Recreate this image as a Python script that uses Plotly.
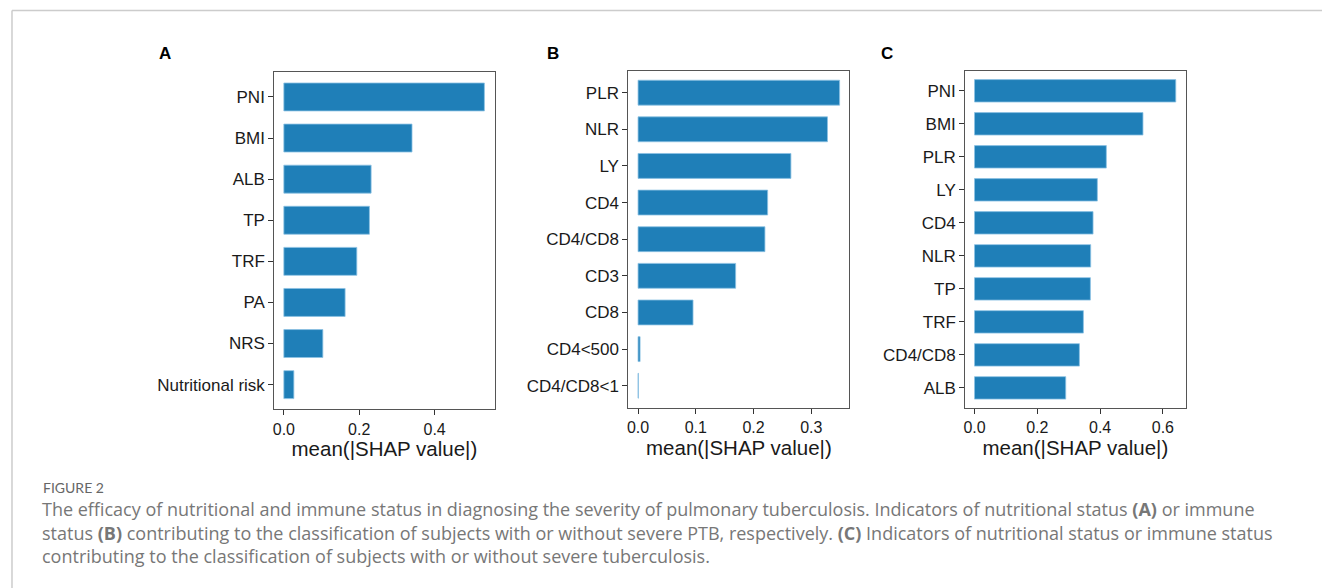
import plotly.graph_objects as go

W, H = 1322, 588

# ---------------- data ----------------
a_features = ["PNI", "BMI", "ALB", "TP", "TRF", "PA", "NRS", "Nutritional risk"]
a_values = [0.532, 0.340, 0.2315, 0.227, 0.1935, 0.1625, 0.1034, 0.0265]

b_features = ["PLR", "NLR", "LY", "CD4", "CD4/CD8", "CD3", "CD8", "CD4<500", "CD4/CD8<1"]
b_values = [0.349, 0.328, 0.2647, 0.2244, 0.2197, 0.169, 0.0952, 0.0035, 0.0006]

c_features = ["PNI", "BMI", "PLR", "LY", "CD4", "NLR", "TP", "TRF", "CD4/CD8", "ALB"]
c_values = [0.641, 0.5365, 0.4198, 0.3912, 0.3775, 0.370, 0.369, 0.3467, 0.334, 0.2905]

a_ticks = [0.0, 0.2, 0.4]
b_ticks = [0.0, 0.1, 0.2, 0.3]
c_ticks = [0.0, 0.2, 0.4, 0.6]

panel_labels = ["A", "B", "C"]
x_title = "mean(|SHAP value|)"

caption_head = "FIGURE 2"
caption_lines = [
    "The efficacy of nutritional and immune status in diagnosing the severity of pulmonary tuberculosis. Indicators of nutritional status <b>(A)</b> or immune",
    "status <b>(B)</b> contributing to the classification of subjects with or without severe PTB, respectively. <b>(C)</b> Indicators of nutritional status or immune status",
    "contributing to the classification of subjects with or without severe tuberculosis.",
]

# ---------------- layout helpers (pixel -> paper) ----------------
def px(x):
    return x / W

def py(y):
    return 1 - y / H

panels = [
    (a_features, a_values, a_ticks, [-0.0254, 0.559], (272.7, 493.3, 72.3, 409.3), 163),
    (b_features, b_values, b_ticks, [-0.0168, 0.366], (627.3, 848.7, 70.7, 407.7), 552),
    (c_features, c_values, c_ticks, [-0.0296, 0.672], (964.7, 1185.3, 71.0, 407.7), 886),
]

BAR = "#1f7fb8"
FONT = "Liberation Sans"
FRAME = "#555555"

fig = go.Figure()
layout = dict(
    width=W, height=H,
    margin=dict(l=0, r=0, t=0, b=0),
    paper_bgcolor="white", plot_bgcolor="white",
    showlegend=False,
    font=dict(family=FONT, color="#1a1a1a"),
)

annotations = []
for i, (feats, vals, ticks, xr, (l, r, t, b), lab_x) in enumerate(panels):
    idx = "" if i == 0 else str(i + 1)
    fig.add_trace(go.Bar(
        x=vals, y=feats, orientation="h",
        marker=dict(color=BAR, line=dict(color="#8cc2e3", width=0.8)),
        width=0.68,
        xaxis="x" + idx, yaxis="y" + idx,
        hoverinfo="x+y",
    ))
    n = len(feats)
    layout["xaxis" + idx] = dict(
        domain=[px(l), px(r)], anchor="y" + idx,
        range=xr, tickvals=ticks, ticktext=["%.1f" % v for v in ticks],
        showgrid=False, zeroline=False,
        showline=True, mirror=True, linecolor=FRAME, linewidth=1,
        ticks="outside", ticklen=5, tickcolor="#333333", tickwidth=1,
        tickfont=dict(family=FONT, size=16, color="#1a1a1a"),
        title=dict(text=x_title, font=dict(family=FONT, size=20.5, color="#1a1a1a"), standoff=2),
    )
    layout["yaxis" + idx] = dict(
        domain=[py(b), py(t)], anchor="x" + idx,
        type="category", categoryorder="array", categoryarray=feats,
        range=[n - 1 + 0.6, -0.6],
        showgrid=False, zeroline=False,
        showline=True, mirror=True, linecolor=FRAME, linewidth=1,
        ticks="outside", ticklen=5, tickcolor="#333333", tickwidth=1,
        tickfont=dict(family=FONT, size=17, color="#1a1a1a"),
    )
    annotations.append(dict(
        text="<b>%s</b>" % panel_labels[i], x=px(lab_x), y=py(54),
        xref="paper", yref="paper", xanchor="center", yanchor="middle",
        showarrow=False, font=dict(family=FONT, size=17, color="black"),
    ))

CAP_FONT = "Open Sans"
annotations.append(dict(
    text=caption_head, x=px(39), y=py(487), xref="paper", yref="paper",
    xanchor="left", yanchor="middle", showarrow=False,
    font=dict(family="Lato", size=14, color="#666666"),
))
for k, (line, yy) in enumerate(zip(caption_lines, [509, 532.5, 556])):
    annotations.append(dict(
        text=line, x=px(38), y=py(yy), xref="paper", yref="paper",
        xanchor="left", yanchor="middle", showarrow=False,
        font=dict(family=CAP_FONT, size=18, color="#777777"),
    ))

layout["annotations"] = annotations
layout["shapes"] = [
    dict(type="line", xref="paper", yref="paper", x0=px(10), x1=px(10), y0=0, y1=py(10.5),
         line=dict(color="#cccccc", width=1.5)),
    dict(type="line", xref="paper", yref="paper", x0=px(10), x1=1, y0=py(10.5), y1=py(10.5),
         line=dict(color="#cccccc", width=1.5)),
]
fig.update_layout(**layout)
fig.write_html("out.html")
